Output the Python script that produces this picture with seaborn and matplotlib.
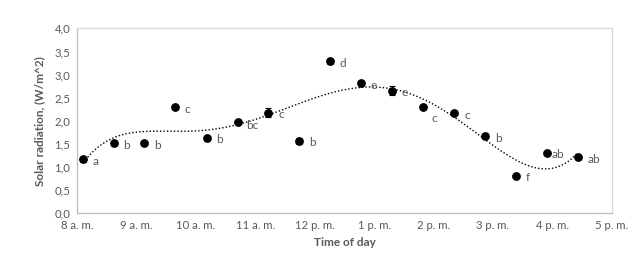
import numpy as np
import pandas as pd
import matplotlib
matplotlib.use("Agg")
import matplotlib.pyplot as plt
import seaborn as sns

# ---- data ----
hours = [8.10, 8.61, 9.13, 9.65, 10.18, 10.70, 11.22, 11.74, 12.26,
         12.78, 13.30, 13.83, 14.35, 14.87, 15.39, 15.91, 16.43]
radiation = [1.17, 1.52, 1.52, 2.30, 1.64, 1.97, 2.18, 1.57, 3.29,
             2.82, 2.65, 2.29, 2.17, 1.67, 0.81, 1.30, 1.21]
errors = [0.05, 0.03, 0.03, 0.03, 0.03, 0.03, 0.09, 0.06, 0.05,
          0.04, 0.10, 0.03, 0.04, 0.03, 0.03, 0.03, 0.03]
letters = ["a", "b", "b", "c", "b", "bc", "c", "b", "d",
           "e", "e", "c", "c", "b", "f", "ab", "ab"]
xtick_labels = ["8 a. m.", "9 a. m.", "10 a. m.", "11 a. m.", "12 p. m.",
                "1 p. m.", "2 p. m.", "3 p. m.", "4 p. m.", "5 p. m."]
ytick_labels = ["0,0", "0,5", "1,0", "1,5", "2,0", "2,5", "3,0", "3,5", "4,0"]

df = pd.DataFrame({"hour": hours, "rad": radiation, "err": errors, "lab": letters})

sns.set_theme(style="white")
plt.rcParams["font.family"] = ["Lato", "DejaVu Sans"]

fig = plt.figure(figsize=(6.41, 2.68), dpi=100)
ax = fig.add_axes([0.1206, 0.204, 0.8336, 0.690])

grey_text = "#595959"

# polynomial trend line (order 6), like Excel's trendline
xc = df["hour"].to_numpy() - 12
coef = np.polyfit(xc, df["rad"].to_numpy(), 6)
xs = np.linspace(df["hour"].min(), df["hour"].max(), 300)
trend = pd.DataFrame({"hour": xs, "rad": np.polyval(coef, xs - 12)})
sns.lineplot(data=trend, x="hour", y="rad", ax=ax, color="black",
             linestyle=(0, (1, 1.5)), linewidth=1.0, zorder=2)

ax.errorbar(df["hour"], df["rad"], yerr=df["err"], fmt="none",
            ecolor="black", elinewidth=0.8, capsize=2, capthick=0.8, zorder=3)
sns.scatterplot(data=df, x="hour", y="rad", ax=ax, color="black",
                s=40, edgecolor="black", linewidth=0, zorder=4)

# label offsets (points)
offsets = {i: (7, -1.5) for i in range(len(df))}
offsets[11] = (6, -8)
offsets[15] = (3, -1)
offsets[5] = (6, -2)
for i, row in df.iterrows():
    dx, dy = offsets[i]
    ax.annotate(row["lab"], (row["hour"], row["rad"]), xytext=(dx, dy),
                textcoords="offset points", ha="left", va="center",
                fontsize=8.5, color=grey_text)

ax.set_xlim(8, 17)
ax.set_ylim(0, 4)
ax.set_xticks(np.arange(8, 18, 1))
ax.set_xticklabels(xtick_labels)
ax.set_yticks(np.arange(0, 4.01, 0.5))
ax.set_yticklabels(ytick_labels)
ax.tick_params(axis="both", labelsize=8.2, colors=grey_text, length=3,
               width=0.8, direction="out", pad=2)
ax.tick_params(axis="x", color="#bfbfbf")
ax.tick_params(axis="y", color="#bfbfbf")
for side in ["left", "bottom"]:
    ax.spines[side].set_color("#bfbfbf")
    ax.spines[side].set_linewidth(0.9)
for side in ["top", "right"]:
    ax.spines[side].set_color("#d9d9d9")
    ax.spines[side].set_linewidth(0.9)
ax.grid(False)

ax.set_xlabel("Time of day", fontsize=8.5, fontweight="bold", color=grey_text, labelpad=4)
ax.set_ylabel("Solar radiation, (W/m^2)", fontsize=8.5, fontweight="bold",
              color=grey_text, labelpad=7)

fig.savefig("out.png", dpi=100)
